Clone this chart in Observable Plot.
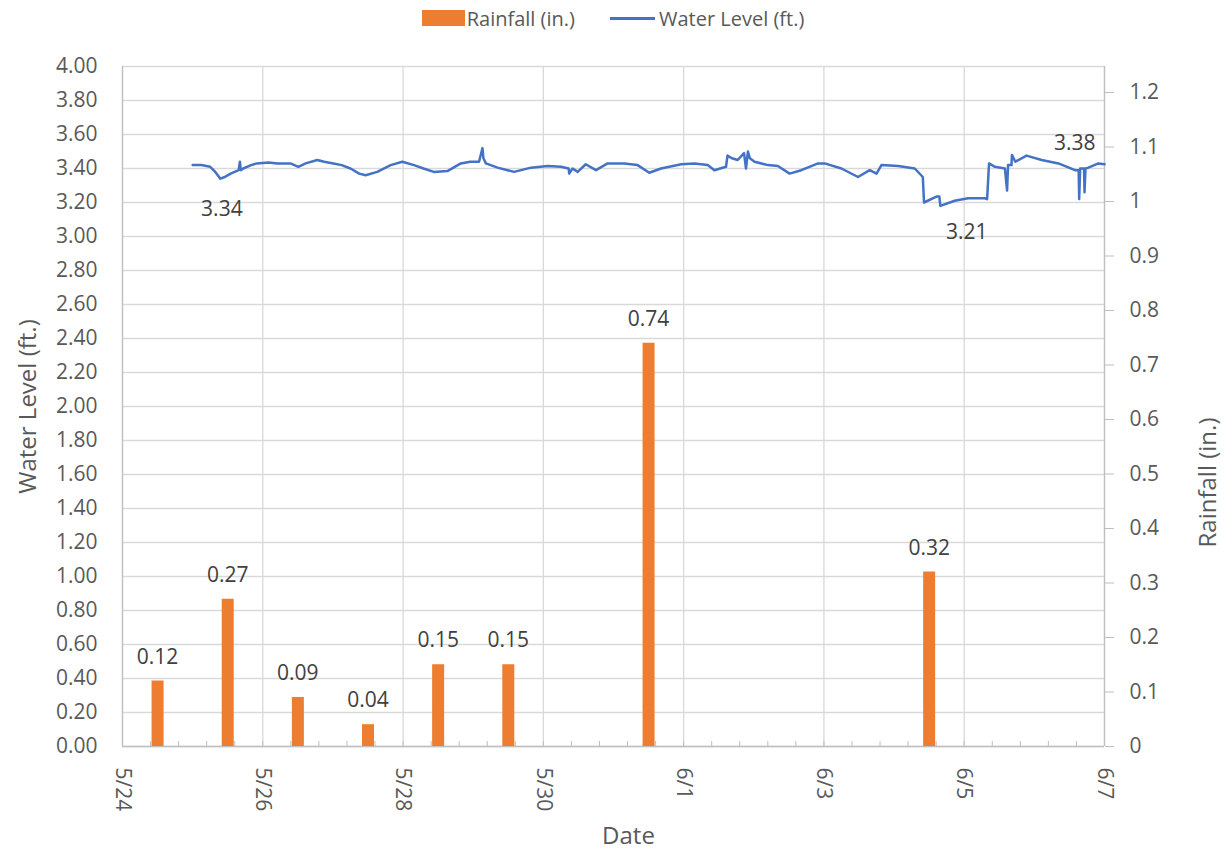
<!DOCTYPE html>
<html><head><meta charset="utf-8">
<script src="https://cdn.jsdelivr.net/npm/d3@7"></script>
<script src="https://cdn.jsdelivr.net/npm/@observablehq/plot@0.6"></script>
<style>
body{margin:0;background:#fff;font-family:"Open Sans",sans-serif;}
#legend{height:36px;display:flex;justify-content:center;align-items:center;color:#595959;font-size:20px;}
.sw{display:inline-block;width:43px;height:16px;background:#ED7D31;margin-right:2px;}
.ln{display:inline-block;width:45px;height:3px;background:#4472C4;margin-right:4px;margin-left:35px;}
</style></head><body>
<div id="legend"><span class="sw"></span><span>Rainfall (in.)</span><span class="ln"></span><span>Water Level (ft.)</span></div>
<div id="chart"></div>
<script>
// ---- data ----
const rainDate = ["05-24","05-25","05-26","05-27","05-28","05-29","05-31","06-04"];
const rainfall = [0.12,0.27,0.09,0.04,0.15,0.15,0.74,0.32];

const waterTime = ["05-25 00:00","05-25 03:00","05-25 06:00","05-25 07:45","05-25 09:30","05-25 11:00","05-25 13:00","05-25 15:45","05-25 16:10","05-25 16:30","05-25 17:20","05-25 20:00","05-25 22:00",
"05-26 02:00","05-26 05:00","05-26 09:30","05-26 12:10","05-26 14:40","05-26 18:40","05-26 21:00",
"05-27 00:10","05-27 03:00","05-27 06:00","05-27 09:00","05-27 11:10","05-27 15:10","05-27 19:45","05-27 23:45",
"05-28 03:45","05-28 07:00","05-28 10:30","05-28 15:10","05-28 19:45","05-28 23:00",
"05-29 02:00","05-29 03:10","05-29 03:30","05-29 04:20","05-29 08:20","05-29 14:00","05-29 19:45",
"05-30 01:30","05-30 06:00","05-30 08:40","05-30 08:50","05-30 10:00","05-30 11:45","05-30 14:30","05-30 18:00","05-30 22:00",
"05-31 03:40","05-31 08:15","05-31 12:15","05-31 16:15","05-31 23:10",
"06-01 03:40","06-01 08:15","06-01 10:30","06-01 14:30","06-01 15:00","06-01 16:30","06-01 18:30","06-01 20:40","06-01 21:20","06-01 22:00","06-01 22:40",
"06-02 00:15","06-02 04:50","06-02 08:15","06-02 12:15","06-02 16:15","06-02 22:00",
"06-03 00:15","06-03 06:00","06-03 11:40","06-03 15:40","06-03 18:00","06-03 19:40",
"06-04 01:25","06-04 07:05","06-04 09:50","06-04 10:15","06-04 14:30","06-04 15:30","06-04 15:50","06-04 20:45",
"06-05 01:20","06-05 07:05","06-05 07:50","06-05 08:30","06-05 10:30","06-05 13:55","06-05 14:40","06-05 15:00","06-05 16:10","06-05 16:20","06-05 17:30","06-05 21:20",
"06-06 02:30","06-06 08:15","06-06 13:55","06-06 15:10","06-06 15:20","06-06 15:40","06-06 17:00","06-06 17:10","06-06 17:30","06-06 18:30","06-06 21:55",
"06-07 00:00"];
const waterLevel = [3.42,3.42,3.41,3.38,3.34,3.35,3.37,3.39,3.44,3.39,3.40,3.42,3.43,
3.435,3.43,3.43,3.41,3.43,3.45,3.44,
3.43,3.42,3.40,3.37,3.36,3.38,3.42,3.44,
3.42,3.40,3.38,3.385,3.43,3.44,
3.44,3.52,3.46,3.43,3.405,3.38,3.405,
3.415,3.41,3.40,3.37,3.40,3.38,3.425,3.39,3.43,
3.43,3.42,3.375,3.40,3.425,
3.43,3.42,3.39,3.41,3.476,3.46,3.45,3.49,3.40,3.50,3.46,
3.44,3.42,3.415,3.37,3.39,3.43,
3.43,3.40,3.35,3.39,3.37,3.42,
3.415,3.40,3.35,3.20,3.235,3.235,3.18,3.21,
3.225,3.225,3.22,3.43,3.41,3.40,3.27,3.42,3.42,3.48,3.44,3.476,
3.45,3.43,3.39,3.39,3.22,3.40,3.40,3.26,3.40,3.405,3.43,
3.425];

const waterLabelTime = ["05-25 10:00","06-05 00:50","06-06 13:50"];
const waterLabelValue = [3.34,3.21,3.38];
const waterLabelSide = ["below","below","above"];

const xTickLabels = ["5/24","5/26","5/28","5/30","6/1","6/3","6/5","6/7"];
const yTickLabels = ["0.00","0.20","0.40","0.60","0.80","1.00","1.20","1.40","1.60","1.80","2.00","2.20","2.40","2.60","2.80","3.00","3.20","3.40","3.60","3.80","4.00"];
const rainTickLabels = ["0","0.1","0.2","0.3","0.4","0.5","0.6","0.7","0.8","0.9","1","1.1","1.2"];

// ---- build ----
const parse = d3.utcParse("%Y-%m-%d %H:%M");
const parseTick = d3.utcParse("%Y/%m/%d");
const k = 545/170; // rainfall (in.) -> water level (ft.) units
const water = waterTime.map((t,i)=>({t: parse("2023-"+t), v: waterLevel[i]}));
const rain = rainDate.map((d,i)=>({t: parse("2023-"+d+" 12:00"), r: rainfall[i]}));
const wl = waterLabelTime.map((t,i)=>({t: parse("2023-"+t), v: waterLabelValue[i], s: waterLabelSide[i]}));
const xTicks = xTickLabels.map(s => parseTick("2023/"+s));
const yTicks = yTickLabels.map(Number);
const rTicks = rainTickLabels.map(Number);
const start = xTicks[0], end = xTicks[xTicks.length-1];
const minor = d3.range(0, 14.001, 0.4).map(d => new Date(+start + d*864e5));

const chart = Plot.plot({
  width: 1226, height: 817,
  marginTop: 30, marginBottom: 107, marginLeft: 122, marginRight: 122,
  style: {fontFamily: "Open Sans", fontSize: "21px", color: "#595959", background: "#fff", overflow: "visible"},
  x: {type: "utc", domain: [start, end]},
  y: {domain: [0, 4]},
  marks: [
    Plot.gridY(yTicks, {stroke: "#d9d9d9", strokeOpacity: 1, strokeWidth: 1.3}),
    Plot.gridX(xTicks, {stroke: "#d9d9d9", strokeOpacity: 1, strokeWidth: 1.3}),
    Plot.ruleX([start, end], {stroke: "#bfbfbf", strokeWidth: 1.3}),
    Plot.ruleY([0], {stroke: "#bfbfbf", strokeWidth: 1.5}),
    Plot.axisY(yTicks, {anchor: "left", tickSize: 0, tickPadding: 25, tickFormat: (d,i) => yTickLabels[i], label: null, fill: "#595959", fontSize: 21}),
    Plot.axisY(rTicks, {anchor: "right", y: d => d*k, tickSize: 9, tickPadding: 16, stroke: "#bfbfbf", fill: "#595959", fontSize: 21, tickFormat: (d,i) => rainTickLabels[i], label: null}),
    Plot.axisX(xTicks, {anchor: "bottom", tickSize: 0, tickPadding: 21, tickRotate: 90, tickFormat: (d,i) => xTickLabels[i], label: null, fill: "#595959", fontSize: 21}),
    Plot.axisX(minor, {anchor: "bottom", tickSize: -5, stroke: "#bfbfbf", tickFormat: () => "", label: null}),
    Plot.ruleX(rain, {x: "t", y1: 0, y2: d => d.r*k, stroke: "#ED7D31", strokeWidth: 12}),
    Plot.text(rain, {x: "t", y: d => d.r*k, text: d => d.r.toFixed(2), dy: -24, fill: "#404040", fontSize: 21}),
    Plot.line(water, {x: "t", y: "v", stroke: "#4472C4", strokeWidth: 2.5}),
    Plot.text(wl.filter(d=>d.s==="below"), {x: "t", y: "v", text: d => d.v.toFixed(2), dy: 31, fill: "#404040", fontSize: 21}),
    Plot.text(wl.filter(d=>d.s==="above"), {x: "t", y: "v", text: d => d.v.toFixed(2), dy: -29, fill: "#404040", fontSize: 21}),
    Plot.text(["Water Level (ft.)"], {frameAnchor: "left", dx: -94, rotate: -90, textAnchor: "middle", fontSize: 24, fill: "#595959"}),
    Plot.text(["Rainfall (in.)"], {frameAnchor: "right", dx: 104, dy: 76, rotate: -90, textAnchor: "middle", fontSize: 24, fill: "#595959"}),
    Plot.text(["Date"], {frameAnchor: "bottom", dx: 15, dy: 97, textAnchor: "middle", fontSize: 24, fill: "#595959"})
  ]
});
document.getElementById("chart").appendChild(chart);
</script>
</body></html>
